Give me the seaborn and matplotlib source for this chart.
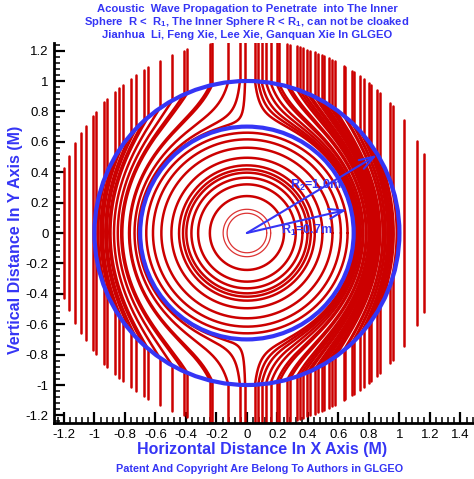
import numpy as np
import pandas as pd
import matplotlib
matplotlib.use("Agg")
import matplotlib.pyplot as plt
from matplotlib.patches import Circle
from matplotlib.ticker import MultipleLocator, FuncFormatter
import seaborn as sns

sns.set_theme(style="ticks")
plt.rcParams["font.family"] = ["Liberation Sans", "DejaVu Sans"]
plt.rcParams["mathtext.fontset"] = "custom"
plt.rcParams["mathtext.rm"] = "Liberation Sans:bold"
plt.rcParams["mathtext.it"] = "Liberation Sans:bold"
plt.rcParams["mathtext.bf"] = "Liberation Sans:bold"
plt.rcParams["axes.unicode_minus"] = False

BLUE = "#3535f5"
RED = "#cc0000"

# radii of the cloak shell and of the end of the incoming rays
R1 = 0.7
R2 = 1.0
R_END = 1.27

# x position of the incoming vertical rays
rays_left = [-1.197, -1.164, -1.125, -1.088, -1.055, -1.011, -0.989, -0.934,
             -0.917, -0.868, -0.836, -0.814, -0.763, -0.726, -0.676, -0.649,
             -0.572, -0.489, -0.414, -0.390, -0.243, -0.228, -0.123, -0.046,
             -0.012]
rays_right = [0.053, 0.074, 0.096, 0.125, 0.156, 0.195, 0.213, 0.265, 0.283,
              0.327, 0.349, 0.371, 0.397, 0.414, 0.447, 0.469, 0.491, 0.507,
              0.535, 0.557, 0.579, 0.634, 0.645, 0.689, 0.700, 0.743, 0.765,
              0.798, 0.816, 0.853, 0.875, 0.941, 0.958, 1.029, 1.116, 1.160]

# waves inside the inner sphere
inner_radii = [0.243, 0.32, 0.364, 0.397, 0.419, 0.445, 0.495, 0.561, 0.616, 0.66]
inner_radii_thin = [0.13, 0.156]

arrow_tips = [(0.853, 0.513), (0.656, 0.153)]
arrow_labels = ["R$_2$=1.0m", "R$_1$=0.7m"]
label_pos = [(0.45, 0.31), (0.39, 0.02)]


def ray_segments(x0):
    top = np.sqrt(R_END**2 - x0**2)
    if abs(x0) >= R2:
        return [(np.array([x0, x0]), np.array([top, -top]))]
    h = np.sqrt(R2**2 - x0**2)
    y = np.linspace(h, -h, 3000)
    r = np.hypot(x0, y)
    rm = R1 + r * (R2 - R1) / R2
    return [
        (np.array([x0, x0]), np.array([top, h])),
        (x0 * rm / r, y * rm / r),
        (np.array([x0, x0]), np.array([-h, -top])),
    ]


rows = []
k = 0
for x0 in rays_left + rays_right:
    for xs, ys in ray_segments(x0):
        rows.append(pd.DataFrame({"x": xs, "y": ys, "id": k}))
        k += 1
df_rays = pd.concat(rows, ignore_index=True)

t = np.linspace(0, 2 * np.pi, 400)
df_inner = pd.concat(
    [pd.DataFrame({"x": r * np.cos(t), "y": r * np.sin(t), "id": i})
     for i, r in enumerate(inner_radii)], ignore_index=True)
df_thin = pd.concat(
    [pd.DataFrame({"x": r * np.cos(t), "y": r * np.sin(t), "id": i})
     for i, r in enumerate(inner_radii_thin)], ignore_index=True)

fig = plt.figure(figsize=(4.74, 4.79), dpi=100)
ax = fig.add_axes([54 / 474, 1 - 423 / 479, 420 / 474, 380 / 479])

sns.lineplot(data=df_rays, x="x", y="y", units="id", estimator=None, sort=False,
             color=RED, linewidth=1.8, ax=ax, legend=False)
sns.lineplot(data=df_inner, x="x", y="y", units="id", estimator=None, sort=False,
             color=RED, linewidth=1.8, ax=ax, legend=False)
sns.lineplot(data=df_thin, x="x", y="y", units="id", estimator=None, sort=False,
             color="#dd3333", linewidth=0.9, ax=ax, legend=False)

for r in [R1, R2]:
    ax.add_patch(Circle((0, 0), r, fill=False, ec=BLUE, lw=3, zorder=5))

for tip, lab, pos in zip(arrow_tips, arrow_labels, label_pos):
    ax.annotate("", xy=tip, xytext=(0, 0),
                arrowprops=dict(arrowstyle="->,head_length=0.9,head_width=0.3",
                                color=BLUE, lw=1.5, shrinkA=0, shrinkB=0), zorder=6)
    ax.text(pos[0], pos[1], lab, color=BLUE, fontsize=9, fontweight="bold",
            ha="center", va="center", zorder=7)

ax.set_xlim(-1.265, 1.489)
ax.set_ylim(-1.25, 1.25)
ax.set_aspect("auto")

ax.xaxis.set_major_locator(MultipleLocator(0.2))
ax.yaxis.set_major_locator(MultipleLocator(0.2))
ax.xaxis.set_minor_locator(MultipleLocator(0.04))
ax.yaxis.set_minor_locator(MultipleLocator(0.04))
fmt = FuncFormatter(lambda v, p: f"{round(v, 2):g}" if abs(v) > 1e-9 else "0")
ax.xaxis.set_major_formatter(fmt)
ax.yaxis.set_major_formatter(fmt)
ax.tick_params(which="major", direction="in", length=8, width=1.6,
               labelsize=9.5, colors="black", pad=4)
ax.tick_params(which="minor", direction="in", length=4.5, width=1.1, colors="black")

for s in ["top", "right"]:
    ax.spines[s].set_visible(False)
for s in ["left", "bottom"]:
    ax.spines[s].set_linewidth(2)
    ax.spines[s].set_color("black")

ax.set_xlabel("Horizontal Distance In X Axis (M)", color=BLUE, fontsize=11.5,
              fontweight="bold")
ax.set_ylabel("Vertical Distance In Y Axis (M)", color=BLUE, fontsize=11.5,
              fontweight="bold")
ax.xaxis.set_label_coords((262 - 54) / 420, (423 - 442) / 380)
ax.yaxis.set_label_coords((23 - 54) / 420, (423 - 240) / 380)

title_lines = [
    "Acoustic  Wave Propagation to Penetrate  into The Inner",
    "Sphere  R <  R$_1$, The Inner Sphere R < R$_1$, can not be cloaked",
    "Jianhua  Li, Feng Xie, Lee Xie, Ganquan Xie In GLGEO",
]
for line, yc in zip(title_lines, [9, 22, 35]):
    fig.text(247 / 474, 1 - yc / 479, line, color=BLUE, fontsize=8.1,
             fontweight="bold", ha="center", va="center")

fig.text(260 / 474, 1 - 469 / 479,
         "Patent And Copyright Are Belong To Authors in GLGEO",
         color=BLUE, fontsize=7.8, fontweight="bold", ha="center", va="center")

fig.savefig("out.png", dpi=100)
